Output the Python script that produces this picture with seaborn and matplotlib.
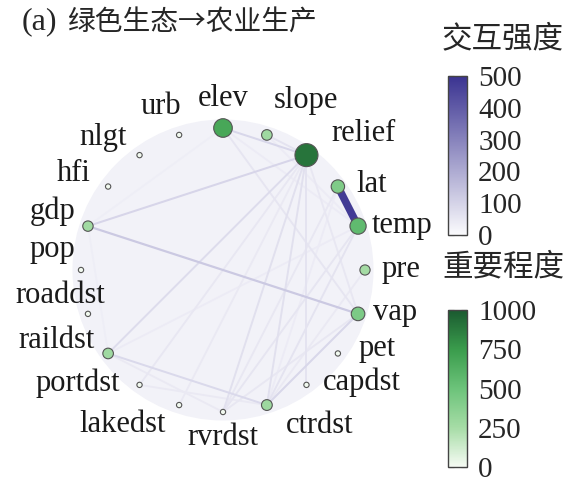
import numpy as np
import pandas as pd
import matplotlib
matplotlib.use("Agg")
import matplotlib.pyplot as plt
import seaborn as sns
from matplotlib.colors import Normalize
from matplotlib.cm import ScalarMappable
from matplotlib.patches import Circle

sns.set_style("white")
plt.rcParams['font.family'] = ['Liberation Serif', 'Noto Sans CJK SC', 'DejaVu Sans']

# nodes, clockwise from the top
names = ['elev', 'slope', 'relief', 'lat', 'temp', 'pre', 'vap', 'pet', 'capdst', 'ctrdst',
         'rvrdst', 'lakedst', 'portdst', 'raildst', 'roaddst', 'pop', 'gdp', 'hfi', 'nlgt', 'urb']
importance = [680, 280, 900, 420, 560, 260, 430, 15, 15, 290,
              15, 15, 15, 280, 15, 15, 270, 15, 15, 15]

# interactions
edge_from = ['lat', 'gdp', 'relief', 'elev', 'relief', 'raildst', 'vap', 'relief', 'relief',
             'relief', 'temp', 'temp', 'lat', 'elev', 'relief', 'slope', 'relief', 'vap',
             'raildst', 'relief', 'elev', 'temp', 'pre', 'lat', 'portdst', 'gdp', 'elev', 'slope']
edge_to = ['temp', 'vap', 'gdp', 'relief', 'raildst', 'ctrdst', 'ctrdst', 'ctrdst', 'rvrdst',
           'capdst', 'ctrdst', 'rvrdst', 'rvrdst', 'vap', 'vap', 'relief', 'portdst', 'rvrdst',
           'rvrdst', 'lakedst', 'temp', 'raildst', 'ctrdst', 'ctrdst', 'ctrdst', 'raildst',
           'gdp', 'temp']
edge_val = [480, 125, 95, 90, 80, 85, 90, 70, 70,
            60, 60, 55, 50, 55, 50, 60, 50, 50,
            45, 45, 40, 40, 45, 40, 45, 35, 35, 40]

# where each label sits round the ring (angle in degrees clockwise from top, radius)
label_angle = [0, 26, 46, 60, 76, 90, 104, 117, 129, 148,
               180, 213, 232, 247, 261, 277, 289, 303, 318, 339]
label_radius = [1.21, 1.33, 1.38, 1.21, 1.30, 1.25, 1.25, 1.22, 1.26, 1.29,
                1.18, 1.30, 1.30, 1.27, 1.16, 1.21, 1.27, 1.25, 1.26, 1.23]

purple_cmap = sns.blend_palette(['#fbfbfd', '#3a3391'], as_cmap=True)
green_cmap = sns.blend_palette(['#f6fbf4', '#a6dca6', '#6cc37a', '#3a9c4c', '#1a5a30'], as_cmap=True)
pnorm = Normalize(0, 500)
gnorm = Normalize(0, 1000)

n = len(names)
theta = np.deg2rad(np.arange(n) * 360 / n)
nodes = pd.DataFrame({'name': names, 'imp': importance,
                      'x': np.sin(theta), 'y': np.cos(theta)})
pos = nodes.set_index('name')
edges = pd.DataFrame({'src': edge_from, 'dst': edge_to, 'val': edge_val}).sort_values('val')

fig = plt.figure(figsize=(5.7, 4.86), dpi=100)
ax = fig.add_axes([0, 0, 440 / 570, 426 / 486])
ax.axis('off')

# faint disk behind the network
ax.add_patch(Circle((0, 0), 1.06, color=purple_cmap(0.05), zorder=0, lw=0))

for _, e in edges.iterrows():
    a, b = pos.loc[e['src']], pos.loc[e['dst']]
    ax.plot([a['x'], b['x']], [a['y'], b['y']], color=purple_cmap(pnorm(e['val'])),
            lw=1.3 + 4.5 * (e['val'] / 500) ** 2, solid_capstyle='round', zorder=1)

node_sizes = {v: ((5 + v * 0.02) * 0.72) ** 2 for v in set(importance)}
sns.scatterplot(data=nodes, x='x', y='y', hue='imp', palette=green_cmap, hue_norm=gnorm,
                size='imp', sizes=node_sizes, edgecolor='#555555', linewidth=0.8,
                legend=False, ax=ax, zorder=3)
ax.set_xlim(-223 / 142, 217 / 142)
ax.set_ylim(-216 / 142, 210 / 142)

for name, ang, rad in zip(names, label_angle, label_radius):
    a = np.deg2rad(ang)
    ax.text(rad * np.sin(a), rad * np.cos(a), name, ha='center', va='center',
            fontsize=22, color='#1a1a1a')

fig.text(22 / 570, 1 - 22 / 486, '(a)', fontsize=23, va='center', ha='left')
fig.text(67 / 570, 1 - 22 / 486, '绿色生态→农业生产', fontsize=20, va='center', ha='left',
         family=['Noto Sans CJK SC', 'DejaVu Sans'])

# colorbars
cax1 = fig.add_axes([448 / 570, (486 - 235) / 486, 19 / 570, 159 / 486])
cb1 = fig.colorbar(ScalarMappable(norm=pnorm, cmap=purple_cmap), cax=cax1, ticks=[0, 100, 200, 300, 400, 500])
cax2 = fig.add_axes([448 / 570, (486 - 467) / 486, 19 / 570, 157 / 486])
cb2 = fig.colorbar(ScalarMappable(norm=gnorm, cmap=green_cmap), cax=cax2, ticks=[0, 250, 500, 750, 1000])
for cb in [cb1, cb2]:
    cb.outline.set_edgecolor('#444444')
    cb.outline.set_linewidth(1.0)
    cb.ax.tick_params(direction='in', left=True, right=True, length=4, width=0.8,
                      color='#333333', labelsize=21, pad=8)
fig.text(503 / 570, 1 - 40 / 486, '交互强度', fontsize=22, ha='center', va='center')
fig.text(503 / 570, 1 - 268 / 486, '重要程度', fontsize=22, ha='center', va='center')

fig.savefig('out.png', dpi=100)
